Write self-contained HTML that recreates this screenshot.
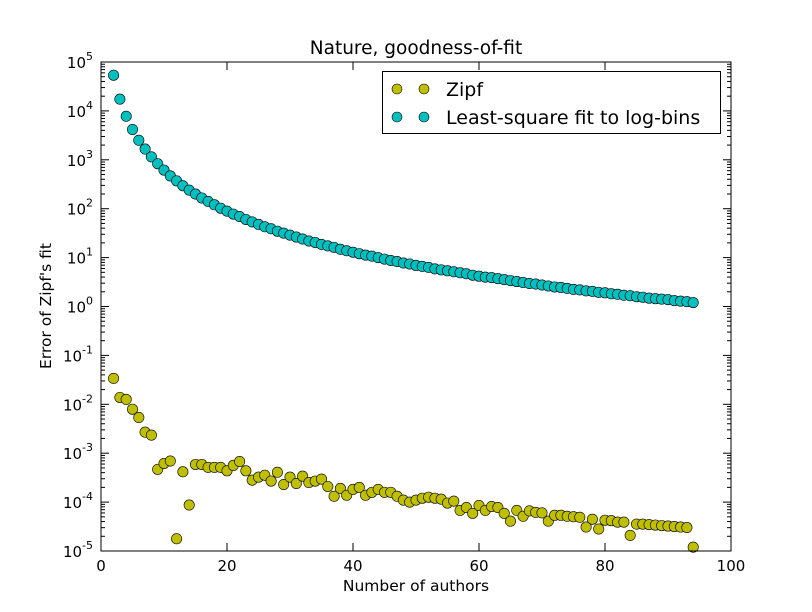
<!DOCTYPE html>
<html><head><meta charset="utf-8"><style>
body{margin:0;background:#fff;}
svg{display:block;font-family:"DejaVu Sans","Liberation Sans",sans-serif;}
</style></head><body>
<svg id="chart" width="812" height="612" viewBox="0 0 812 612">
<rect width="812" height="612" fill="#fff"/>
<g id="plot"></g>
</svg>
<script>
const xValues = [];
for (let i = 2; i <= 94; i++) xValues.push(i);
const zipfLog10 = [-1.47,-1.86,-1.90,-2.10,-2.27,-2.57,-2.63,-3.33,-3.21,-3.16,-4.75,-3.38,-4.06,-3.23,-3.23,-3.29,-3.29,-3.29,-3.36,-3.25,-3.17,-3.36,-3.55,-3.49,-3.45,-3.57,-3.39,-3.64,-3.49,-3.62,-3.47,-3.60,-3.57,-3.53,-3.68,-3.88,-3.72,-3.86,-3.74,-3.70,-3.86,-3.80,-3.74,-3.80,-3.80,-3.88,-3.96,-4.00,-3.96,-3.92,-3.90,-3.92,-3.94,-4.02,-3.98,-4.17,-4.11,-4.23,-4.07,-4.17,-4.09,-4.11,-4.23,-4.39,-4.17,-4.29,-4.18,-4.21,-4.22,-4.39,-4.27,-4.27,-4.29,-4.30,-4.31,-4.51,-4.35,-4.55,-4.37,-4.38,-4.41,-4.41,-4.68,-4.45,-4.45,-4.46,-4.47,-4.48,-4.49,-4.50,-4.51,-4.52,-4.92];
const lsqLog10 = [4.73,4.24,3.89,3.62,3.40,3.22,3.06,2.92,2.79,2.67,2.57,2.47,2.38,2.30,2.22,2.15,2.08,2.01,1.95,1.89,1.84,1.78,1.73,1.68,1.63,1.59,1.54,1.50,1.46,1.42,1.38,1.34,1.31,1.27,1.24,1.21,1.17,1.14,1.11,1.08,1.05,1.03,1.00,0.97,0.94,0.92,0.89,0.87,0.84,0.82,0.80,0.77,0.75,0.73,0.71,0.69,0.67,0.64,0.62,0.60,0.59,0.57,0.55,0.53,0.51,0.49,0.47,0.46,0.44,0.42,0.40,0.39,0.37,0.35,0.34,0.32,0.31,0.29,0.28,0.26,0.25,0.23,0.22,0.20,0.19,0.17,0.16,0.15,0.14,0.12,0.11,0.10,0.08];
const xTicks = [0,20,40,60,80,100];
const yTickExps = [-5,-4,-3,-2,-1,0,1,2,3,4,5];

const L=101,R=731,T=62,B=551;
const NS="http://www.w3.org/2000/svg";
const sx = v => L + (v-0)/(100-0)*(R-L);
const sy = lg => B - (lg-(-5))/(10)*(B-T);
const g = document.getElementById('plot');
function mk(tag, attrs, parent){const e=document.createElementNS(NS,tag);for(const k in attrs)e.setAttribute(k,attrs[k]);(parent||g).appendChild(e);return e;}

const ticks = mk('g',{stroke:'#000','stroke-width':1});


xTicks.forEach(t=>{
  const x=sx(t);
  mk('line',{x1:x,x2:x,y1:B,y2:B-8},ticks);
  mk('line',{x1:x,x2:x,y1:T,y2:T+8},ticks);
  const tx=mk('text',{x:x,y:B+20,'text-anchor':'middle','font-size':15,fill:'#000'});
  tx.textContent=t;
  
  
});
yTickExps.forEach(e=>{
  const y=sy(e);
  mk('line',{x1:L,x2:L+8,y1:y,y2:y},ticks);
  mk('line',{x1:R,x2:R-8,y1:y,y2:y},ticks);
  if(e<5){for(let m=2;m<=9;m++){const ym=sy(e+Math.log10(m));
    mk('line',{x1:L,x2:L+4,y1:ym,y2:ym},ticks);
    mk('line',{x1:R,x2:R-4,y1:ym,y2:ym},ticks);}}
  const tx=mk('text',{x:L-8,y:y+6,'text-anchor':'end','font-size':15,fill:'#000'});
  
  
  const a=document.createElementNS(NS,'tspan');a.textContent='10';tx.appendChild(a);
  const b=document.createElementNS(NS,'tspan');b.setAttribute('dy','-8');b.setAttribute('font-size','11');b.textContent=String(e);tx.appendChild(b);
});

function series(vals,color,name){
  const sg=mk('g',{fill:color,stroke:'#000','stroke-width':0.6});
  
  
  vals.forEach((v,i)=>{
    const c=mk('circle',{cx:sx(xValues[i]),cy:sy(v),r:5.2},sg);
    
    
  });
}
series(zipfLog10,'#bfbf00','zipf-series');
series(lsqLog10,'#00bfbf','lsq-series');

const fr=mk('rect',{x:L,y:T,width:R-L,height:B-T,fill:'none',stroke:'#000','stroke-width':1});



const lg=mk('g',{});


mk('rect',{x:382.5,y:71.5,width:338,height:62,fill:'#fff',stroke:'#000','stroke-width':1},lg);
[['Zipf','#bfbf00',89],['Least-square fit to log-bins','#00bfbf',117]].forEach(([t,c,y])=>{
  const eg=mk('g',{},lg);
  
  
  mk('circle',{cx:397,cy:y,r:5,fill:c,stroke:'#000','stroke-width':0.6},eg);
  mk('circle',{cx:424,cy:y,r:5,fill:c,stroke:'#000','stroke-width':0.6},eg);
  const tx=mk('text',{x:446,y:y+7,'font-size':19,fill:'#000'},eg);tx.textContent=t;
});

const title=mk('text',{x:416,y:54,'text-anchor':'middle','font-size':18.5,fill:'#000'});
title.textContent='Nature, goodness-of-fit';


const xl=mk('text',{x:416,y:591,'text-anchor':'middle','font-size':15.5,fill:'#000'});
xl.textContent='Number of authors';


const yl=mk('text',{x:0,y:0,'text-anchor':'middle','font-size':15.5,fill:'#000',transform:'translate(51,306) rotate(-90)'});
yl.textContent="Error of Zipf's fit";


</script>
</body></html>
